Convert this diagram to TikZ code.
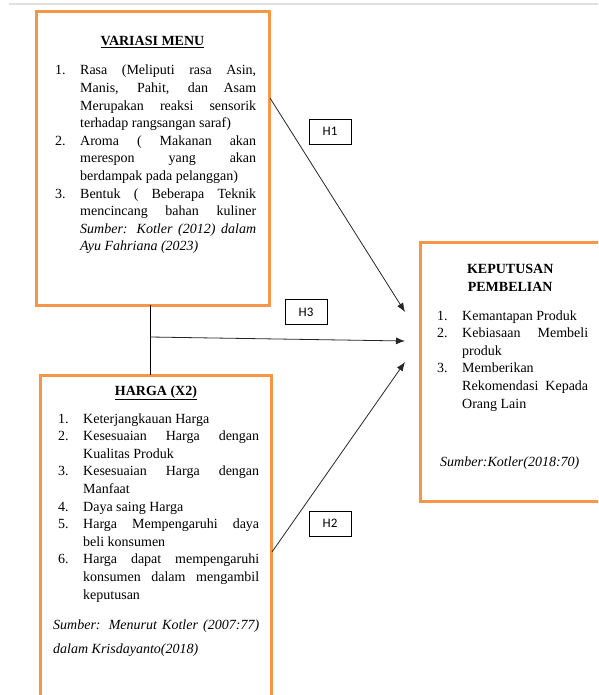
\documentclass[tikz,border=0pt]{standalone}
\usepackage{fontspec}
\setmainfont{Liberation Serif}
\newfontfamily\hfont{Carlito}
\usetikzlibrary{arrows.meta,positioning}
\definecolor{boxorange}{HTML}{F79646}
\newcommand\litem[2]{\hangindent=25pt\hangafter=1\noindent\makebox[25pt][l]{#1}#2\par}

\begin{document}
\begin{tikzpicture}[x=1pt,y=-1pt,
  frame/.style={draw=boxorange,line width=3pt,outer sep=0pt,inner sep=0pt},
  title/.style={inner sep=0pt,anchor=base,font=\bfseries\fontsize{14}{17.6}\selectfont},
  txt/.style={inner sep=0pt,anchor=base west,align=justify,font=\fontsize{14}{17.6}\selectfont},
  hyp/.style={draw,line width=.8pt,minimum width=42pt,minimum height=25pt,font=\hfont\fontsize{13}{15}\selectfont},
  arr/.style={-{Latex[length=9pt,width=7pt]},line width=.8pt,black!85}]
\useasboundingbox (0,0) rectangle (598,695);
\clip (0,0) rectangle (598,695);
\draw[black!12,line width=2pt] (9,4) -- (598,4);

\node[frame,minimum width=233pt,minimum height=293pt] (menu) at (152.5,158.5) {};
\node[frame,minimum width=231pt,minimum height=355pt] (harga) at (155.5,552.5) {};
\node[frame,minimum width=220pt,minimum height=259pt] (kep) at (530,371.5) {};

\node[title] (menutitle) at (152.5,46) {\underline{VARIASI MENU}};
\node[txt,text width=201pt] (menulist) at (55,75) {%
  \litem{1.}{Rasa (Meliputi rasa Asin,\linebreak Manis, Pahit, dan Asam\linebreak Merupakan reaksi sensorik\linebreak terhadap rangsangan saraf)}
  \litem{2.}{Aroma ( Makanan akan\linebreak merespon yang akan\linebreak berdampak pada pelanggan)}
  \litem{3.}{Bentuk ( Beberapa Teknik\linebreak mencincang bahan kuliner\linebreak \textit{Sumber: Kotler (2012) dalam\linebreak Ayu Fahriana (2023)}}};

\node[title] (hargatitle) at (156,395) {\underline{HARGA (X2)}};
\node[txt,text width=201pt] (hargalist) at (58,423) {%
  \litem{1.}{Keterjangkauan Harga}
  \litem{2.}{Kesesuaian Harga dengan\linebreak Kualitas Produk}
  \litem{3.}{Kesesuaian Harga dengan\linebreak Manfaat}
  \litem{4.}{Daya saing Harga}
  \litem{5.}{Harga Mempengaruhi daya\linebreak beli konsumen}
  \litem{6.}{Harga dapat mempengaruhi\linebreak konsumen dalam mengambil\linebreak keputusan}};
\node[txt,text width=206pt,font=\itshape\fontsize{14}{24}\selectfont] (hargasrc) at (53,629)
  {Sumber: Menurut Kotler (2007:77)\linebreak dalam Krisdayanto(2018)};

\node[txt,text width=140pt,align=center,font=\bfseries\fontsize{14}{18}\selectfont] (keptitle) at (440,273)
  {KEPUTUSAN\\PEMBELIAN};
\node[txt,text width=151pt] (keplist) at (437,320) {%
  \litem{1.}{Kemantapan Produk}
  \litem{2.}{Kebiasaan Membeli\linebreak produk}
  \litem{3.}{Memberikan\\Rekomendasi Kepada\linebreak Orang Lain}};
\node[txt,font=\itshape\fontsize{14}{17.6}\selectfont] (kepsrc) at (440,466) {Sumber:Kotler(2018:70)};

\node[hyp] (h1) at (330,131.5) {H1};
\node[hyp] (h3) at (306,312) {H3};
\node[hyp] (h2) at (330,523.5) {H2};

\coordinate (j) at (150,337);
\draw[line width=.9pt] (menu.south -| j) -- (harga.north -| j);
\draw[arr] ([shift={(1,86)}]menu.north east) -- ([shift={(-15,-59.5)}]kep.west);
\draw[arr] (j) -- ([shift={(-15,-30.5)}]kep.west);
\draw[arr] ([shift={(1,177)}]harga.north east) -- ([shift={(-15,-9.5)}]kep.west);
\end{tikzpicture}
\end{document}
